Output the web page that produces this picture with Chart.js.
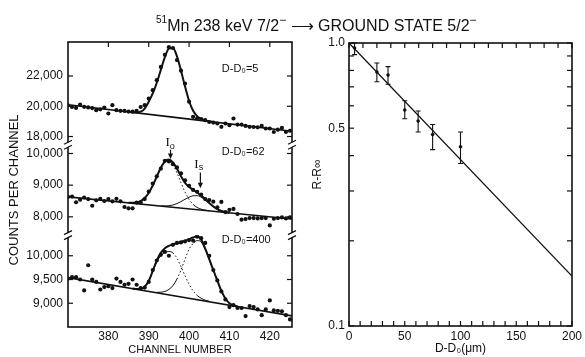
<!DOCTYPE html>
<html><head><meta charset="utf-8">
<script src="https://cdn.jsdelivr.net/npm/chart.js@4.4.1/dist/chart.umd.min.js"></script>
<style>
html,body{margin:0;padding:0;background:#fff;}
#wrap{position:relative;width:585px;height:357px;overflow:hidden;background:#fff;}
canvas{position:absolute;top:0;}
#cL{left:0;} #cR{left:300px;}
#title{position:absolute;left:156px;top:18px;font:16px/16px "Liberation Sans",Arial,sans-serif;color:#111;white-space:nowrap;}
#title .sp{position:relative;top:-8px;font-size:10px;}
#title .sm{position:relative;top:-7px;font-size:12px;}
</style></head><body>
<div id="wrap">
<canvas id="cL" width="300" height="357" style="width:300px;height:357px"></canvas>
<canvas id="cR" width="285" height="357" style="width:285px;height:357px"></canvas>
<div id="title"><span class="sp">51</span>Mn 238 keV 7/2<span class="sm">−</span> ⟶ GROUND STATE 5/2<span class="sm">−</span></div>
</div>
<script>
// ================= DATA : left panel (counts per channel) =================
const channels = [370,371,372,373,374,375,376,377,378,379,380,381,382,383,384,385,386,387,388,389,390,391,392,393,394,395,396,397,398,399,400,401,402,403,404,405,406,407,408,409,410,411,412,413,414,415,416,417,418,419,420,421,422,423,424,425];
const panelDepths = [5, 62, 400];
const topCounts = [20060,19950,19890,20110,19960,19920,19880,19740,19800,19910,19520,20070,19740,19700,19690,19650,19640,19700,19950,20070,20510,21060,21720,22600,23400,23900,23850,23050,22350,21500,20300,19300,19200,19150,19080,18960,18920,18860,18640,18860,18750,19190,18790,18790,18700,18640,18630,18610,18700,18530,18530,18300,18450,18570,18300,18380];
const midCounts = [8630,8640,8460,8540,8610,8560,8350,8520,8570,8500,8560,8490,8570,8490,8310,8270,8270,8450,8460,8560,8800,9050,9280,9520,9770,9750,9660,9560,9370,9150,8980,8850,8790,8700,8560,8530,8480,8300,8470,8150,8220,8250,8090,7910,7930,7960,7960,7950,7960,7960,7730,7940,7960,7980,7950,7980];
const botCounts = [9520,9550,9550,9500,9270,9800,9500,9450,9290,9340,9360,9320,9520,9450,9390,9410,9500,9390,9320,9330,9450,9700,9900,10020,10080,10000,10230,10270,10280,10300,10330,10320,10400,10370,10270,10000,9700,9480,9250,9080,8920,8960,8900,8900,8730,8940,8920,8870,8750,8870,9060,8850,8840,8830,8750,8660];

// straight backgrounds (end channels and counts)
const bgEnds = [370, 425.5];
const topBg = [20100, 18350];
const midBg = [8630, 7930];
const botBg = [9540, 8735];

// fitted curves
const topFitCh = [385,386,387,388,389,390,391,392,393,394,395,396,397,398,399,400,401,402,403,404,405,406];
const topFit   = [19627,19596,19594,19640,19850,20300,20850,21550,22400,23250,23800,23850,23300,22350,21300,20350,19700,19350,19170,19060,18997,18966];
const midFitCh = [385,386,387,388,389,390,391,392,393,394,395,396,397,398,399,400,401,402,403,404,405,406,407,408,409,410];
const midFit   = [8447,8443,8457,8499,8593,8755,8989,9274,9552,9749,9807,9715,9516,9281,9073,8950,8850,8770,8670,8560,8440,8330,8240,8186,8154,8132];
const midI0Ch  = [395,396,397,398,399,400,401,402,403,404,405];
const midI0    = [9772,9644,9388,9077,8782,8550,8391,8296,8242,8212,8192];
const midIsCh  = [393,394,395,396,397,398,399,400,401,402,403,404,405,406,407,408,409,410];
const midIs    = [8346,8343,8350,8373,8418,8481,8556,8620,8665,8670,8620,8530,8430,8325,8240,8186,8154,8132];
const botFitCh = [386,387,388,389,390,391,392,393,394,395,396,397,398,399,400,401,402,403,404,405,406,407,408,409,410,411,412];
const botFit   = [9310,9298,9300,9350,9470,9680,9900,10060,10160,10210,10240,10265,10290,10320,10350,10385,10410,10340,10150,9930,9700,9480,9260,9100,9000,8955,8935];
const botI0Ch  = [389,390,391,392,393,394,395,396,397,398,399,400,401,402,403,404,405];
const botI0    = [9345,9470,9670,9870,10000,10070,10090,10060,9950,9770,9580,9400,9260,9165,9105,9065,9040];
const botIsCh  = [392,393,394,395,396,397,398,399,400,401,402,403,404,405,406,407,408,409,410,411];
const botIs    = [9230,9232,9250,9290,9370,9510,9700,9930,10140,10260,10320,10290,10130,9920,9690,9475,9255,9095,8995,8955];

const channelTicks = [380,390,400,410,420];
const topTicks = [18000,20000,22000];
const midTicks = [8000,9000,10000];
const botTicks = [9000,9500,10000];

// ================= DATA : right panel =================
const depth     = [5, 25, 35, 50, 62, 75, 100];
const ratio     = [0.96, 0.79, 0.77, 0.58, 0.53, 0.475, 0.43];
const ratioLow  = [0.91, 0.73, 0.715, 0.54, 0.485, 0.42, 0.375];
const ratioHigh = [1.0, 0.85, 0.825, 0.625, 0.575, 0.515, 0.485];
const fitDepth = [0, 200];
const fitRatio = [1.0, 0.15];
const depthLabels = [0,50,100,150,200];
const depthTicksBottom = [0,10,20,30,40,50,60,70,80,90,100,110,120,130,140,150,160,170,180,190,200];
const depthTicksTop = [0,12.5,25,37.5,50,62.5,75,87.5,100,112.5,125,137.5,150,162.5,175,187.5,200];
const ratioTicks = [0.1,0.2,0.3,0.4,0.5,0.6,0.7,0.8,0.9,1.0];
const ratioLabels = [0.1,0.5,1.0];

// ================= helpers =================
const INK = '#111';
Chart.defaults.font.family = '"Liberation Sans", Arial, Helvetica, sans-serif';
Chart.defaults.color = INK;
Chart.defaults.animation = false;
const pts = (xs, ys) => xs.map((x, i) => ({x: x, y: ys[i]}));
const dotted = (a, b) => ctx => (ctx.p0.parsed.x >= a - 1e-6 && ctx.p1.parsed.x <= b + 1e-6) ? [1.5, 2.2] : undefined;
const curve = (xs, ys, yID, w, seg) => {
  const d = {type:'line', data: pts(xs, ys), yAxisID: yID, borderColor: INK, borderWidth: w,
    pointRadius: 0, fill: false, cubicInterpolationMode: 'monotone'};
  if (seg) d.segment = {borderDash: seg};
  return d;
};
const dots = (xs, ys, yID, r) => ({type:'scatter', data: pts(xs, ys), yAxisID: yID, pointRadius: r,
  pointBackgroundColor: INK, pointBorderWidth: 0, showLine: false});

function drawTicks(chart, specs) {
  const {ctx, chartArea: a} = chart;
  specs.forEach(sp => {
    const s = chart.scales[sp.scale];
    sp.values.forEach(v => {
      const p = s.getPixelForValue(v);
      ctx.beginPath();
      if (sp.side === 'top') { ctx.moveTo(p, a.top); ctx.lineTo(p, a.top + sp.len); }
      else if (sp.side === 'bottom') { ctx.moveTo(p, a.bottom); ctx.lineTo(p, a.bottom - sp.len); }
      else if (sp.side === 'left') { ctx.moveTo(a.left, p); ctx.lineTo(a.left + sp.len, p); }
      else { ctx.moveTo(a.right, p); ctx.lineTo(a.right - sp.len, p); }
      ctx.stroke();
    });
  });
}
function arrowDown(ctx, x, yTail, yTip) {
  ctx.beginPath(); ctx.moveTo(x, yTail); ctx.lineTo(x, yTip - 4); ctx.stroke();
  ctx.beginPath(); ctx.moveTo(x - 2.6, yTip - 5.5); ctx.lineTo(x + 2.6, yTip - 5.5); ctx.lineTo(x, yTip); ctx.closePath(); ctx.fill();
}
function subText(ctx, main, sub, x, y, fMain, fSub, dy) {
  ctx.font = fMain; const w = ctx.measureText(main).width;
  ctx.font = fSub; const w2 = ctx.measureText(sub).width;
  const x0 = x - (w + w2) / 2;
  ctx.textAlign = 'left';
  ctx.font = fMain; ctx.fillText(main, x0, y);
  ctx.font = fSub; ctx.fillText(sub, x0 + w, y + dy);
}

// ================= LEFT CHART =================
const leftTickSpecs = [
  {scale:'x', values: channelTicks, side:'top', len:5},
  {scale:'yTop', values: topTicks, side:'left', len:5}, {scale:'yTop', values: topTicks, side:'right', len:5},
  {scale:'yMid', values: midTicks, side:'left', len:5}, {scale:'yMid', values: midTicks, side:'right', len:5},
  {scale:'yBot', values: botTicks, side:'left', len:5}, {scale:'yBot', values: botTicks, side:'right', len:5}
];
const leftDecor = {
  id: 'leftDecor',
  afterDraw(chart) {
    const {ctx, chartArea: a, scales: s} = chart;
    ctx.save();
    ctx.strokeStyle = INK; ctx.fillStyle = INK; ctx.lineWidth = 1.6;
    ctx.strokeRect(a.left, a.top, a.right - a.left, a.bottom - a.top);
    ctx.lineWidth = 1.2;
    drawTicks(chart, leftTickSpecs);
    // axis breaks between stacked panels
    [s.yTop.bottom, s.yMid.bottom].forEach(yb => {
      [a.left, a.right].forEach(x0 => {
        ctx.fillStyle = '#fff'; ctx.fillRect(x0 - 2, yb - 2.2, 4, 4.4);
        ctx.strokeStyle = INK; ctx.lineWidth = 1.2;
        ctx.beginPath();
        ctx.moveTo(x0 - 4, yb - 0.5); ctx.lineTo(x0 + 4, yb - 4.5);
        ctx.moveTo(x0 - 4, yb + 4.5); ctx.lineTo(x0 + 4, yb + 0.5);
        ctx.stroke();
      });
    });
    ctx.fillStyle = INK;
    // panel labels D-D0 = ...
    ctx.textBaseline = 'middle'; ctx.textAlign = 'left';
    ctx.font = '11px "Liberation Sans", Arial, sans-serif';
    const lab = [['yTop', 22488], ['yMid', 10041], ['yBot', 10330]];
    lab.forEach((l, i) => {
      ctx.fillText('D-D\u2080=' + panelDepths[i], s.x.getPixelForValue(408.1), s[l[0]].getPixelForValue(l[1]));
    });
    // I0 and Is markers
    ctx.textBaseline = 'middle';
    subText(ctx, 'I', 'o', s.x.getPixelForValue(395.3), s.yMid.getPixelForValue(10330),
      '13px "Liberation Serif", serif', '9px "Liberation Sans", sans-serif', 3);
    subText(ctx, 'I', 's', s.x.getPixelForValue(402.4), s.yMid.getPixelForValue(9660),
      '13px "Liberation Serif", serif', '9px "Liberation Sans", sans-serif', 3);
    ctx.lineWidth = 1.2;
    arrowDown(ctx, s.x.getPixelForValue(395.4), s.yMid.getPixelForValue(10120), s.yMid.getPixelForValue(9830));
    arrowDown(ctx, s.x.getPixelForValue(402.8), s.yMid.getPixelForValue(9400), s.yMid.getPixelForValue(8900));
    ctx.restore();
  }
};
const yCfg = (min, max, ticks, weight, extra) => Object.assign({
  type: 'linear', position: 'left', stack: 'left', stackWeight: weight, min: min, max: max,
  grid: {display: false, drawTicks: false}, border: {display: false},
  afterBuildTicks: sc => { sc.ticks = ticks.map(v => ({value: v})); },
  afterFit: sc => { sc.width = 68; },
  ticks: {padding: 5, font: {size: 12}, callback: v => Number(v).toLocaleString('en-US')}
}, extra || {});

new Chart(document.getElementById('cL'), {
  type: 'line',
  data: {datasets: [
    dots(channels, topCounts, 'yTop', 2.1),
    curve(topFitCh, topFit, 'yTop', 2),
    curve(bgEnds, topBg, 'yTop', 1.6),
    dots(channels, midCounts, 'yMid', 2.1),
    curve(midFitCh, midFit, 'yMid', 2),
    curve(bgEnds, midBg, 'yMid', 1.6),
    curve(midI0Ch, midI0, 'yMid', 1, dotted(396, 401)),
    curve(midIsCh, midIs, 'yMid', 1),
    dots(channels, botCounts, 'yBot', 2.1),
    curve(botFitCh, botFit, 'yBot', 2),
    curve(bgEnds, botBg, 'yBot', 1.6),
    curve(botI0Ch, botI0, 'yBot', 1, dotted(396, 402)),
    curve(botIsCh, botIs, 'yBot', 1, dotted(397, 401))
  ]},
  options: {
    responsive: false, devicePixelRatio: 1, animation: false,
    layout: {padding: {top: 42, right: 8, bottom: 0, left: 0}},
    plugins: {legend: {display: false}, tooltip: {enabled: false}},
    scales: {
      x: {type: 'linear', position: 'bottom', min: 370, max: 425.5,
        grid: {display: false, drawTicks: false}, border: {display: false},
        afterBuildTicks: sc => { sc.ticks = channelTicks.map(v => ({value: v})); },
        afterFit: sc => { sc.height = 30; },
        ticks: {padding: 2, font: {size: 12}, maxRotation: 0, autoSkip: false},
        title: {display: true, text: 'CHANNEL NUMBER', font: {size: 11}, padding: {top: 0, bottom: 0}}},
      yBot: yCfg(8500, 10435, botTicks, 92),
      yMid: yCfg(7423, 10278, midTicks, 90.5, {title: {display: true, text: 'COUNTS PER CHANNEL', font: {size: 13}, padding: {top: 7, bottom: 0}}}),
      yTop: yCfg(17460, 24245, topTicks, 102.8)
    }
  },
  plugins: [leftDecor]
});

// ================= RIGHT CHART =================
const rightTickSpecs = [
  {scale:'x', values: depthTicksTop, side:'top', len:5},
  {scale:'x', values: depthTicksBottom, side:'bottom', len:5},
  {scale:'y', values: ratioTicks, side:'left', len:5},
  {scale:'y', values: ratioTicks, side:'right', len:5}
];
const rightDecor = {
  id: 'rightDecor',
  afterDraw(chart) {
    const {ctx, chartArea: a, scales: s} = chart;
    ctx.save();
    ctx.strokeStyle = INK; ctx.fillStyle = INK; ctx.lineWidth = 1.6;
    ctx.strokeRect(a.left, a.top, a.right - a.left, a.bottom - a.top);
    ctx.lineWidth = 1.2;
    drawTicks(chart, rightTickSpecs);
    // error bars
    ctx.lineWidth = 1.1;
    depth.forEach((d, i) => {
      const x = s.x.getPixelForValue(d);
      const y1 = s.y.getPixelForValue(ratioLow[i]);
      const y2 = s.y.getPixelForValue(ratioHigh[i]);
      ctx.beginPath();
      ctx.moveTo(x, y1); ctx.lineTo(x, y2);
      ctx.moveTo(x - 2.5, y1); ctx.lineTo(x + 2.5, y1);
      ctx.moveTo(x - 2.5, y2); ctx.lineTo(x + 2.5, y2);
      ctx.stroke();
    });
    // y axis title R-R_inf
    ctx.translate(a.left - 31, (a.top + a.bottom) / 2 - 10);
    ctx.rotate(-Math.PI / 2);
    ctx.textAlign = 'center'; ctx.textBaseline = 'middle';
    ctx.font = '12px "Liberation Sans", Arial, sans-serif';
    ctx.fillText('R-R\u221E', 0, 0);
    ctx.restore();
  }
};
new Chart(document.getElementById('cR'), {
  type: 'line',
  data: {datasets: [
    {type: 'line', data: pts(fitDepth, fitRatio), borderColor: INK, borderWidth: 1.3, pointRadius: 0, fill: false},
    {type: 'scatter', data: pts(depth, ratio), pointRadius: 1.8, pointBackgroundColor: INK, pointBorderWidth: 0, showLine: false}
  ]},
  options: {
    responsive: false, devicePixelRatio: 1, animation: false,
    layout: {padding: {top: 43, right: 12, bottom: 0, left: 0}},
    plugins: {legend: {display: false}, tooltip: {enabled: false}},
    scales: {
      x: {type: 'linear', min: 0, max: 200,
        grid: {display: false, drawTicks: false}, border: {display: false},
        afterBuildTicks: sc => { sc.ticks = depthLabels.map(v => ({value: v})); },
        afterFit: sc => { sc.height = 31; },
        ticks: {padding: 3, font: {size: 12}, maxRotation: 0, autoSkip: false},
        title: {display: true, text: 'D-D\u2080(\u03BCm)', font: {size: 12}, padding: {top: 0, bottom: 1}}},
      y: {type: 'logarithmic', min: 0.1, max: 1.0,
        grid: {display: false, drawTicks: false}, border: {display: false},
        afterBuildTicks: sc => { sc.ticks = ratioTicks.map(v => ({value: v})); },
        afterFit: sc => { sc.width = 49; },
        ticks: {padding: 4, font: {size: 12}, autoSkip: false,
          callback: v => ratioLabels.indexOf(v) >= 0 ? Number(v).toFixed(1) : ''}}
    }
  },
  plugins: [rightDecor]
});
</script>
</body></html>
